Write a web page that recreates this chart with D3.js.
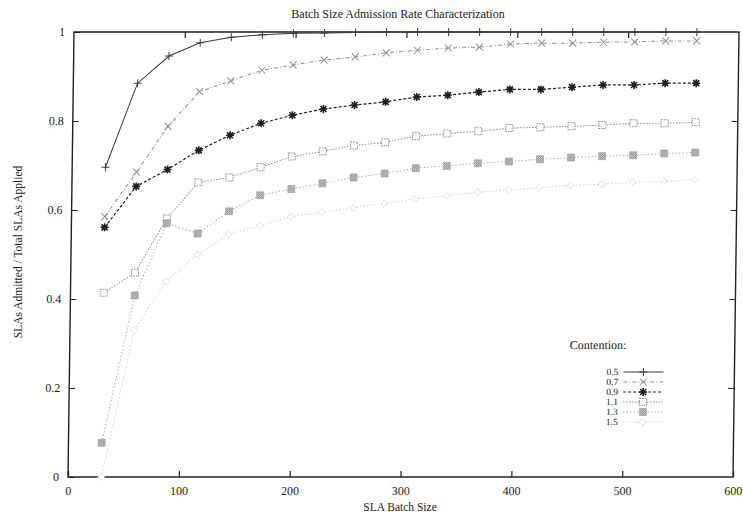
<!DOCTYPE html>
<html>
<head>
<meta charset="utf-8">
<script src="https://cdn.jsdelivr.net/npm/d3@7"></script>
<style>
  html, body { margin: 0; padding: 0; background: #fff; }
  svg { display: block; }
  text { font-family: "Liberation Serif", "Times New Roman", serif; fill: #222; }
</style>
</head>
<body>
<svg id="chart" width="743" height="519"></svg>
<script>
// Batch sizes sampled in the experiment
const batchSizes = [30, 58, 86, 114, 142, 170, 198, 226, 254, 282, 310, 338, 366, 394, 422, 450, 478, 506, 534, 562];

// Admission ratio for each contention level
const contention05 = [0.696, 0.885, 0.946, 0.976, 0.988, 0.994, 0.997, 0.998, 0.999, 1, 1, 1, 1, 1, 1, 1, 1, 1, 1, 1];
const contention07 = [0.585, 0.685, 0.788, 0.866, 0.890, 0.914, 0.926, 0.937, 0.944, 0.953, 0.959, 0.964, 0.966, 0.973, 0.975, 0.975, 0.977, 0.978, 0.980, 0.980];
const contention09 = [0.561, 0.653, 0.691, 0.734, 0.768, 0.795, 0.813, 0.827, 0.836, 0.843, 0.854, 0.858, 0.865, 0.871, 0.871, 0.876, 0.881, 0.881, 0.885, 0.885];
const contention11 = [0.414, 0.459, 0.581, 0.662, 0.673, 0.696, 0.720, 0.732, 0.745, 0.752, 0.766, 0.772, 0.777, 0.784, 0.786, 0.788, 0.791, 0.795, 0.795, 0.797];
const contention13 = [0.077, 0.408, 0.570, 0.547, 0.597, 0.633, 0.647, 0.660, 0.673, 0.682, 0.694, 0.699, 0.705, 0.709, 0.714, 0.718, 0.721, 0.723, 0.727, 0.729];
const contention15 = [0.0, 0.33, 0.44, 0.50, 0.545, 0.565, 0.585, 0.595, 0.605, 0.615, 0.625, 0.632, 0.640, 0.645, 0.650, 0.655, 0.658, 0.662, 0.665, 0.668];

const seriesLabels = ["0.5", "0.7", "0.9", "1.1", "1.3", "1.5"];
const xTicks = [0, 100, 200, 300, 400, 500, 600];
const yTicks = [0, 0.2, 0.4, 0.6, 0.8, 1];
const yTickLabels = ["0", "0.2", "0.4", "0.6", "0.8", "1"];

const seriesValues = [contention05, contention07, contention09, contention11, contention13, contention15];

const svg = d3.select("#chart");
const plotLeft = 68, plotRight = 733, plotTop = 32, plotBottom = 477;

const x = d3.scaleLinear().domain([0, 600]).range([plotLeft, plotRight]);
const y = d3.scaleLinear().domain([0, 1]).range([plotBottom, plotTop]);

// hatch pattern for the 1.3 markers
const defs = svg.append("defs");
const pat = defs.append("pattern").attr("id", "hatch").attr("patternUnits", "userSpaceOnUse")
  .attr("width", 2).attr("height", 2);
pat.append("rect").attr("width", 2).attr("height", 2).attr("fill", "#dcdcdc");
pat.append("rect").attr("width", 1).attr("height", 1).attr("fill", "#808080");
pat.append("rect").attr("x", 1).attr("y", 1).attr("width", 1).attr("height", 1).attr("fill", "#808080");

// Title and axis captions
svg.append("text").attr("x", 398).attr("y", 18).attr("text-anchor", "middle")
  .style("font-size", "12px").text("Batch Size Admission Rate Characterization");
svg.append("text").attr("x", 400).attr("y", 511).attr("text-anchor", "middle")
  .style("font-size", "11.5px").text("SLA Batch Size");
svg.append("text").attr("transform", "translate(22,252) rotate(-90)").attr("text-anchor", "middle")
  .style("font-size", "11.5px").text("SLAs Admitted / Total SLAs Applied");

// plot body, slightly sheared
const k = 0.0135;
const g = svg.append("g")
  .attr("transform", `translate(${k * plotBottom},0) skewX(${-Math.atan(k) * 180 / Math.PI})`);

// Axes: bottom/left with labels, top/right mirrored ticks
const xAxis = d3.axisBottom(x).tickValues(xTicks).tickSize(-6).tickPadding(9).tickFormat(d3.format("d"));
const yAxis = d3.axisLeft(y).tickValues(yTicks).tickSize(-6).tickPadding(9)
  .tickFormat((d, i) => yTickLabels[i]);

function styleAxis(sel) {
  sel.select(".domain").remove();
  sel.selectAll("line").attr("stroke", "#222").attr("stroke-width", 1.2);
  sel.selectAll("text").style("font-size", "12px").style("font-family", "Liberation Serif, serif").attr("fill", "#222");
}

g.append("g").attr("transform", `translate(0,${plotBottom})`).call(xAxis).call(styleAxis);
g.append("g").attr("transform", `translate(${plotLeft},0)`).call(yAxis).call(styleAxis);
g.append("g").attr("transform", `translate(0,${plotTop})`)
  .call(d3.axisTop(x).tickValues(xTicks.slice(1, -1)).tickSize(-6).tickFormat(""))
  .call(styleAxis);
g.append("g").attr("transform", `translate(${plotRight},0)`)
  .call(d3.axisRight(y).tickValues(yTicks.slice(1, -1)).tickSize(-6).tickFormat(""))
  .call(styleAxis);

g.append("rect").attr("x", plotLeft).attr("y", plotTop).attr("width", plotRight - plotLeft).attr("height", plotBottom - plotTop)
  .attr("fill", "none").attr("stroke", "#222").attr("stroke-width", 1.4);

// series styles
const styles = [
  { color: "#3a3a3a", dash: null, width: 1.0, marker: "plus" },
  { color: "#8e8e8e", dash: "4,2,1,2", width: 1.0, marker: "cross" },
  { color: "#1e1e1e", dash: "3,2", width: 1.2, marker: "star" },
  { color: "#8a8a8a", dash: "1.5,1.5", width: 1.0, marker: "square" },
  { color: "#ababab", dash: "1.5,2", width: 1.0, marker: "hatch" },
  { color: "#d2d2d2", dash: "1.5,2", width: 1.0, marker: "diamond" }
];

function drawMarker(sel, type, color) {
  if (type === "plus") {
    sel.append("path").attr("d", "M-4,0H4M0,-4V4").attr("stroke", color).attr("stroke-width", 1);
  } else if (type === "cross") {
    sel.append("path").attr("d", "M-3.5,-3.5L3.5,3.5M-3.5,3.5L3.5,-3.5").attr("stroke", color).attr("stroke-width", 1);
  } else if (type === "star") {
    sel.append("path").attr("d", "M-4,0H4M0,-4V4M-3,-3L3,3M-3,3L3,-3").attr("stroke", color).attr("stroke-width", 1.6);
  } else if (type === "square") {
    sel.append("rect").attr("x", -3.5).attr("y", -3.5).attr("width", 7).attr("height", 7)
      .attr("fill", "#fff").attr("stroke", color).attr("stroke-width", 1).attr("stroke-dasharray", "1.5,1");
  } else if (type === "hatch") {
    sel.append("rect").attr("x", -3.5).attr("y", -3.5).attr("width", 7).attr("height", 7)
      .attr("fill", "url(#hatch)").attr("stroke", "#9a9a9a").attr("stroke-width", 0.6);
  } else {
    sel.append("path").attr("d", "M0,-3.5L3.5,0L0,3.5L-3.5,0Z").attr("fill", "#fff")
      .attr("stroke", color).attr("stroke-width", 1).attr("stroke-dasharray", "1,1");
  }
}

const line = d3.line().x(d => x(d[0])).y(d => y(d[1]));

seriesValues.forEach((vals, i) => {
  const st = styles[i];
  const pts = batchSizes.map((b, j) => [b, vals[j]]);
  g.append("path").datum(pts).attr("d", line).attr("fill", "none")
    .attr("stroke", st.color).attr("stroke-width", st.width)
    .attr("stroke-dasharray", st.dash);
  g.append("g").selectAll("g").data(pts).join("g")
    .attr("transform", d => `translate(${x(d[0])},${y(d[1])})`)
    .each(function () { drawMarker(d3.select(this), st.marker, st.color); });
});

// Legend
const lg = g.append("g");
lg.append("text").attr("x", 568).attr("y", 349).style("font-size", "12px").text("Contention:");
seriesLabels.forEach((lab, i) => {
  const st = styles[i];
  const yy = 372 + i * 10;
  lg.append("text").attr("x", 617).attr("y", yy + 3).attr("text-anchor", "end")
    .style("font-size", "9.5px").attr("fill", i < 3 ? "#555" : "#aaa").text(lab);
  lg.append("line").attr("x1", 622).attr("x2", 662).attr("y1", yy).attr("y2", yy)
    .attr("stroke", st.color).attr("stroke-width", st.width).attr("stroke-dasharray", st.dash);
  const m = lg.append("g").attr("transform", `translate(642,${yy})`);
  drawMarker(m, st.marker, st.color);
});
</script>
</body>
</html>
